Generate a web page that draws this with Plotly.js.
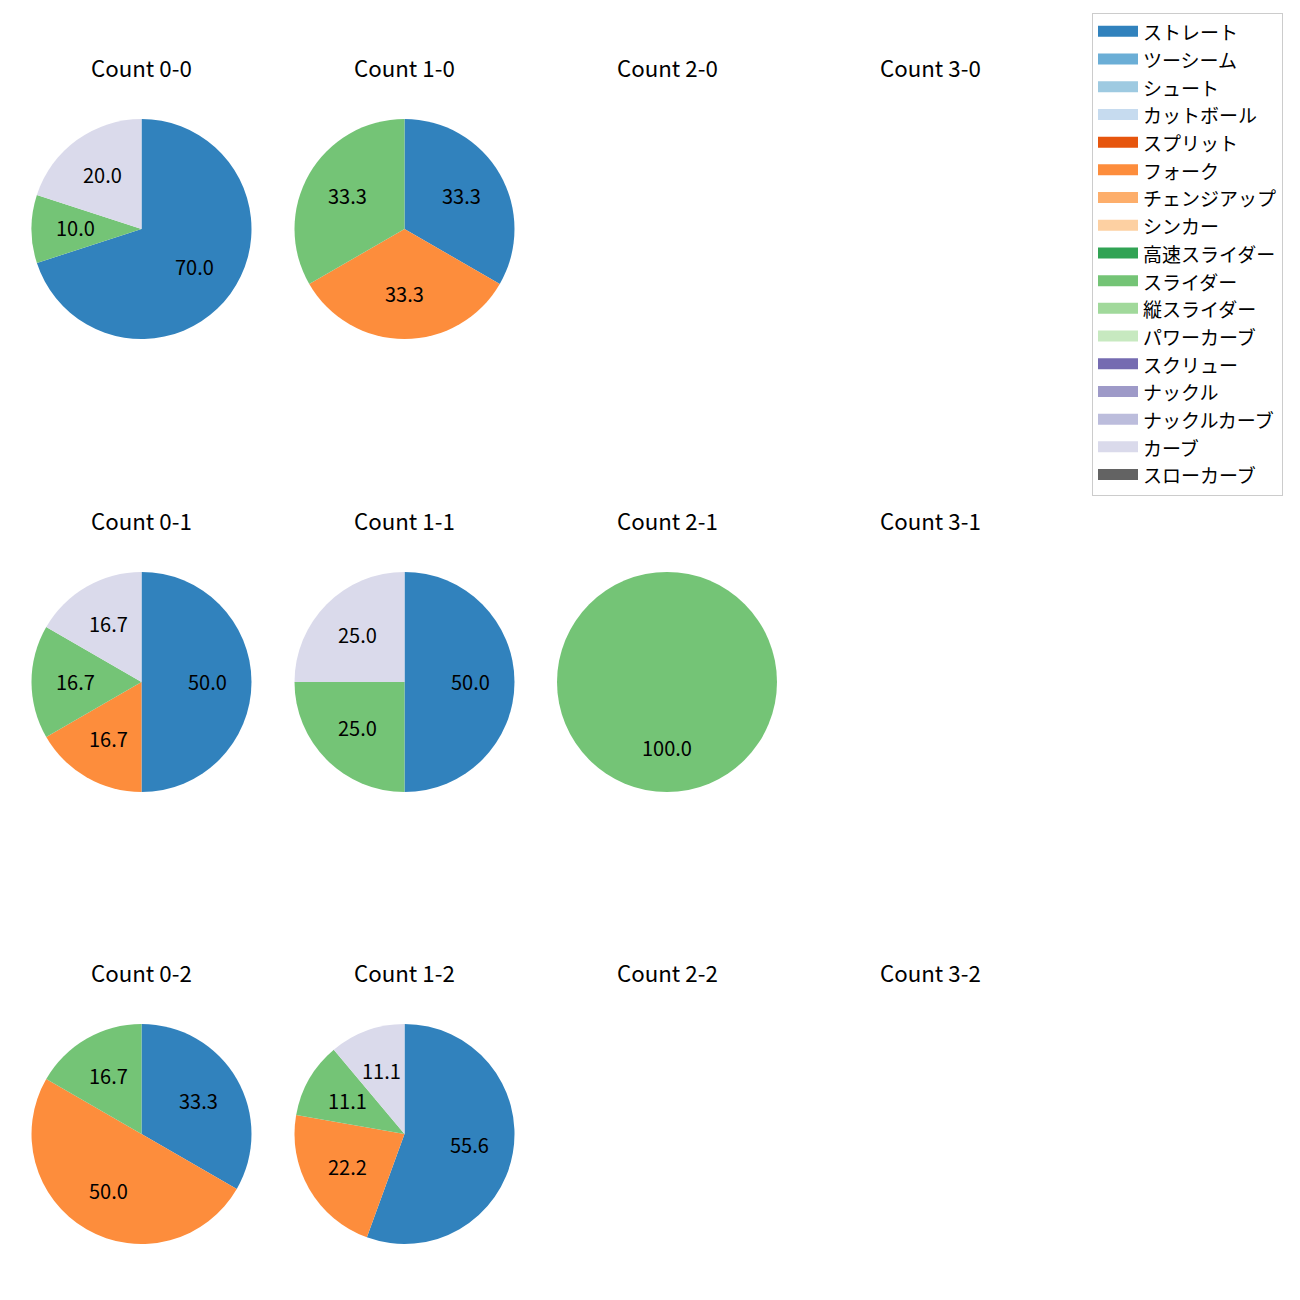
<!DOCTYPE html>
<html>
<head>
<meta charset="utf-8">
<script src="https://cdn.plot.ly/plotly-3.0.1.min.js"></script>
<style>html,body{margin:0;padding:0;background:#fff;}#chart{width:1300px;height:1300px;}</style>
</head>
<body>
<div id="chart"></div>
<script>
// Pitch types (legend order) and colours
const pitchTypes = ["ストレート","ツーシーム","シュート","カットボール","スプリット","フォーク","チェンジアップ","シンカー","高速スライダー","スライダー","縦スライダー","パワーカーブ","スクリュー","ナックル","ナックルカーブ","カーブ","スローカーブ"];
const pitchColors = ["#3182bd","#6baed6","#9ecae1","#c6dbef","#e6550d","#fd8d3c","#fdae6b","#fdd0a2","#31a354","#74c476","#a1d99b","#c7e9c0","#756bb1","#9e9ac8","#bcbddc","#dadaeb","#636363"];

// Subplot titles (row-major, 3 rows x 4 columns)
const countTitles = ["Count 0-0","Count 1-0","Count 2-0","Count 3-0",
                     "Count 0-1","Count 1-1","Count 2-1","Count 3-1",
                     "Count 0-2","Count 1-2","Count 2-2","Count 3-2"];

// Pitch counts per count situation (pitch type -> number)
const count00 = {"ストレート":7,"スライダー":1,"カーブ":2};
const count10 = {"ストレート":1,"フォーク":1,"スライダー":1};
const count20 = {};
const count30 = {};
const count01 = {"ストレート":3,"フォーク":1,"スライダー":1,"カーブ":1};
const count11 = {"ストレート":2,"スライダー":1,"カーブ":1};
const count21 = {"スライダー":1};
const count31 = {};
const count02 = {"ストレート":2,"フォーク":3,"スライダー":1};
const count12 = {"ストレート":5,"フォーク":2,"スライダー":1,"カーブ":1};
const count22 = {};
const count32 = {};
const countData = [count00,count10,count20,count30,count01,count11,count21,count31,count02,count12,count22,count32];

// Layout geometry (pixels)
const W = 1300, H = 1300;
const colCenters = [141.5, 404.5, 667, 930];
const rowCenters = [229, 682, 1134];
const R = 110;
const titleOffset = 162;

const traces = [];
const annotations = [];

countData.forEach((d, k) => {
  const row = Math.floor(k / 4), col = k % 4;
  const cx = colCenters[col], cy = rowCenters[row];
  annotations.push({
    text: countTitles[k], showarrow: false, xref: 'paper', yref: 'paper',
    x: cx / W, y: 1 - (cy - titleOffset) / H, xanchor: 'center', yanchor: 'middle',
    font: {size: 22.3, color: '#000'}
  });
  const labels = pitchTypes.filter(p => d[p] > 0);
  const values = labels.map(p => d[p]);
  if (!labels.length) return;
  const colors = labels.map(p => pitchColors[pitchTypes.indexOf(p)]);
  traces.push({
    type: 'pie', labels: labels, values: values, sort: false, direction: 'clockwise', rotation: 0,
    marker: {colors: colors, line: {width: 0}}, textinfo: 'none', hoverinfo: 'label+percent',
    showlegend: false,
    domain: {x: [(cx - R) / W, (cx + R) / W], y: [1 - (cy + R) / H, 1 - (cy - R) / H]}
  });
  // autopct-style labels at 0.6 radius, at each slice's mid angle
  const total = values.reduce((a, b) => a + b, 0);
  let cum = 0;
  values.forEach(v => {
    const frac = v / total;
    const ang = (90 - 360 * (cum + frac / 2)) * Math.PI / 180;
    cum += frac;
    const px = cx + 0.6 * R * Math.cos(ang);
    const py = cy - 0.6 * R * Math.sin(ang);
    annotations.push({
      text: (100 * frac).toFixed(1), showarrow: false, xref: 'paper', yref: 'paper',
      x: px / W, y: 1 - py / H, xanchor: 'center', yanchor: 'middle', yshift: 1,
      font: {size: 20, color: '#000'}
    });
  });
});

// Legend entries (one per pitch type)
pitchTypes.forEach((p, i) => {
  traces.push({
    type: 'scatter', mode: 'lines', x: [null, null, null], y: [null, null, null], name: p,
    fill: 'toself', fillcolor: pitchColors[i],
    legendgroup: 'g' + i, line: {color: pitchColors[i], width: 14},
    hoverinfo: 'skip', showlegend: true
  });
});

const layout = {
  width: W, height: H,
  margin: {l: 0, r: 0, t: 0, b: 0},
  paper_bgcolor: '#fff', plot_bgcolor: '#fff',
  font: {family: '"Noto Sans CJK JP", sans-serif', color: '#000'},
  xaxis: {visible: false}, yaxis: {visible: false},
  showlegend: true,
  legend: {
    x: 1283 / W, xanchor: 'right', y: 1 - 13 / H, yanchor: 'top',
    bordercolor: '#cccccc', borderwidth: 1, bgcolor: 'rgba(255,255,255,0.8)',
    font: {family: '"Noto Sans CJK JP", sans-serif', size: 19, color: '#000'},
    tracegroupgap: 0, traceorder: 'grouped', itemwidth: 40,
    itemclick: false, itemdoubleclick: false
  },
  annotations: annotations
};

Plotly.newPlot('chart', traces, layout, {displayModeBar: false, staticPlot: true});
</script>
</body>
</html>
